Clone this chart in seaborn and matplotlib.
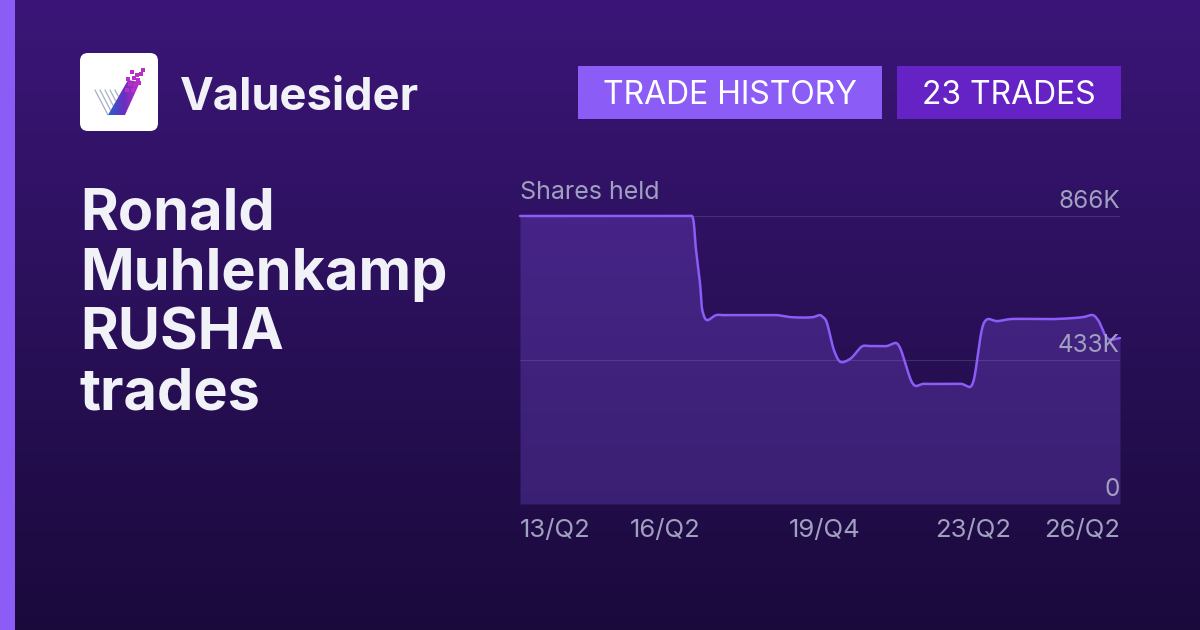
import numpy as np
import pandas as pd
import matplotlib
matplotlib.use('Agg')
import matplotlib.pyplot as plt
from matplotlib.patches import FancyBboxPatch, Rectangle, Polygon
from matplotlib.colors import LinearSegmentedColormap
import seaborn as sns

sns.set_theme(style='white')
plt.rcParams['font.family'] = ['Inter', 'DejaVu Sans']

# quarters since 13/Q2 and shares held (thousands)
quarters = [0, 14, 14.7, 14.9, 15.25, 15.6, 15.86, 16.2, 17, 17.6, 21.7, 22.27, 23.4, 25.4, 26, 26.26,
            26.5, 27.3, 27.8, 28.6, 29.7, 30.2, 31.4, 31.8, 32.6, 32.9, 34, 34.3, 34.9, 35.4, 37.8,
            38.3, 39, 39.25, 40.2, 40.55, 41.3, 42.5, 46.2, 48.8, 49.65, 50.1, 51, 52]
shares_k = [866, 866, 866, 866, 765, 664, 574, 553, 568, 568, 568, 568, 562, 562, 568, 562,
            553, 454, 427, 436, 475, 475, 475, 475, 484, 472, 364, 355, 361, 361, 361,
            361, 352, 364, 544, 556, 550, 556, 556, 562, 568, 553, 496, 499]

x_ticks = [0, 12.56, 26.4, 39.25, 52]
x_labels = ['13/Q2', '16/Q2', '19/Q4', '23/Q2', '26/Q2']
y_ticks = [0, 433, 866]
y_labels = ['0', '433K', '866K']

title_lines = ['Ronald', 'Muhlenkamp', 'RUSHA', 'trades']

ACCENT = '#8b5cf6'
MUTED = '#a0a0c0'


def smooth_curve(x, y, steps=10):
    # centripetal catmull-rom through the points, the source chart draws a curve too
    pts = np.column_stack([x, y]) * [11.54, 0.3326]
    pts = np.vstack([2 * pts[0] - pts[1], pts, 2 * pts[-1] - pts[-2]])
    out = [pts[1]]
    for i in range(1, len(pts) - 2):
        p0, p1, p2, p3 = pts[i - 1:i + 3]
        t1 = np.linalg.norm(p1 - p0) ** 0.5
        t2 = t1 + np.linalg.norm(p2 - p1) ** 0.5
        t3 = t2 + np.linalg.norm(p3 - p2) ** 0.5
        for t in np.linspace(t1, t2, steps + 1)[1:]:
            a1 = (t1 - t) / t1 * p0 + t / t1 * p1
            a2 = (t2 - t) / (t2 - t1) * p1 + (t - t1) / (t2 - t1) * p2
            a3 = (t3 - t) / (t3 - t2) * p2 + (t - t2) / (t3 - t2) * p3
            b1 = (t2 - t) / t2 * a1 + t / t2 * a2
            b2 = (t3 - t) / (t3 - t1) * a2 + (t - t1) / (t3 - t1) * a3
            out.append((t2 - t) / (t2 - t1) * b1 + (t - t1) / (t2 - t1) * b2)
    out = np.array(out) / [11.54, 0.3326]
    return out[:, 0], out[:, 1]


fig = plt.figure(figsize=(12, 6.3), dpi=100)

# page in pixel coordinates
bg = fig.add_axes([0, 0, 1, 1])
page = LinearSegmentedColormap.from_list('page', ['#3b1678', '#2a1059', '#1a0a3c'])
bg.imshow(np.linspace(0, 1, 256).reshape(-1, 1), cmap=page, extent=[0, 1200, 630, 0],
          aspect='auto', zorder=0)
bg.add_patch(Rectangle((0, 0), 15, 630, color=ACCENT, lw=0, zorder=1))

# logo
bg.add_patch(FancyBboxPatch((80, 53), 78, 78, boxstyle='round,pad=0,rounding_size=8',
                            fc='white', ec='none', lw=0, zorder=1))
stripe_top = [95, 100, 105, 110, 115]
stripe_end = [115, 110, 105.5, 100.7, 96]
for sx, ey in zip(stripe_top, stripe_end):
    bg.plot([sx, sx + 0.52 * (ey - 90)], [90, ey], color='#a9afc4', lw=0.9, zorder=2)
check = bg.imshow(np.linspace(0, 1, 64).reshape(1, -1),
                  cmap=LinearSegmentedColormap.from_list('chk', ['#2563c9', '#6a2fc0', '#c02cc4']),
                  extent=[108, 140, 115, 77], aspect='auto', zorder=3)
clip = Polygon([[108, 115], [125, 115], [140, 82], [128, 80]], transform=bg.transData,
               fc='none', ec='none')
bg.add_patch(clip)
check.set_clip_path(clip)
dot_x = [132, 137, 143, 141, 128, 134, 138, 130, 135, 139, 127, 133]
dot_y = [72, 75, 70, 74, 79, 78, 80, 84, 85, 83, 90, 90]
bg.scatter(dot_x, dot_y, s=5, marker='s', color='#b62fc6', lw=0, zorder=3)
bg.set_xlim(0, 1200)
bg.set_ylim(630, 0)
bg.axis('off')

bg.text(180, 98, 'Valuesider', color='#f1f1f8', fontsize=32.6, fontweight='bold', va='center')

for i, line in enumerate(title_lines):
    bg.text(80, 215 + i * 60, line, color='#f1f1f8', fontsize=41.5, fontweight='bold', va='center')

# badges
bg.add_patch(Rectangle((578, 66), 304, 53, color=ACCENT, lw=0))
bg.add_patch(Rectangle((897, 66), 224, 53, color='#6523c5', lw=0))
bg.text(730, 96, 'TRADE HISTORY', color='white', fontsize=23, ha='center', va='center')
bg.text(1009, 96, '23 TRADES', color='white', fontsize=23, ha='center', va='center')

# chart
ax = fig.add_axes([520 / 1200, 126 / 630, 600 / 1200, 288 / 630])
ax.patch.set_alpha(0)
cx, cy = smooth_curve(quarters, shares_k)
df = pd.DataFrame({'quarter': cx, 'shares': cy})
ax.fill_between(df['quarter'], df['shares'], 0, color=ACCENT, alpha=0.25, lw=0)
sns.lineplot(data=df, x='quarter', y='shares', ax=ax, color=ACCENT, lw=1.8, clip_on=False, zorder=3,
             sort=False, errorbar=None)
ax.set_xlim(0, 52)
ax.set_ylim(0, 866)
ax.set_xlabel('')
ax.set_ylabel('')
sns.despine(ax=ax, left=True, bottom=True)
ax.set_yticks(y_ticks)
ax.set_yticklabels([])
ax.grid(axis='y', color='white', alpha=0.13, lw=0.8)
ax.set_axisbelow(True)
for v, lab in zip(y_ticks, y_labels):
    ax.annotate(lab, (52, v), xytext=(0, 10.5), textcoords='offset points', ha='right', va='center',
                color=MUTED, fontsize=17.5, annotation_clip=False)
ax.set_xticks(x_ticks)
ax.set_xticklabels(x_labels, color=MUTED, fontsize=18.5)
ax.tick_params(axis='x', length=0, pad=11)
ax.tick_params(axis='y', length=0)
tl = ax.get_xticklabels()
tl[0].set_ha('left')
tl[-1].set_ha('right')
ax.annotate('Shares held', (0, 866), xytext=(0, 17), textcoords='offset points', ha='left', va='center',
            color=MUTED, fontsize=18, annotation_clip=False)

fig.savefig('out.png', dpi=100)
